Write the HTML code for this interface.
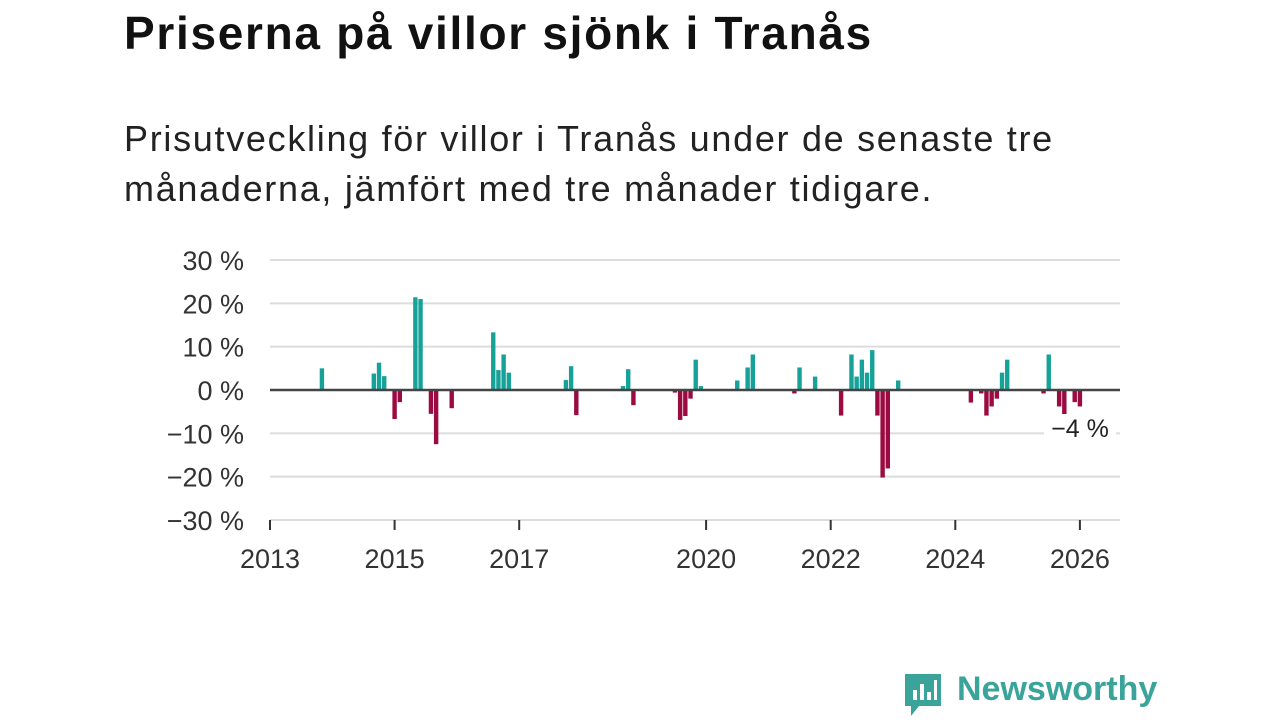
<!DOCTYPE html>
<html><head><meta charset="utf-8"><style>
body{margin:0;width:1280px;height:720px;background:#fff;font-family:"Liberation Sans","DejaVu Sans",sans-serif;overflow:hidden;position:relative}
h1{position:absolute;left:124px;top:6px;margin:0;font-size:46px;font-weight:bold;color:#111;letter-spacing:1.7px}
p.sub{position:absolute;left:124px;top:114px;margin:0;font-size:36px;line-height:50px;color:#222;width:1000px;letter-spacing:1.7px}
svg{position:absolute;left:0;top:0}
</style></head><body>
<h1>Priserna på villor sjönk i Tranås</h1>
<p class="sub">Prisutveckling för villor i Tranås under de senaste tre<br>månaderna, jämfört med tre månader tidigare.</p>
<svg id="chart" width="1280" height="720"></svg>
<div style="position:absolute;left:903px;top:670px;height:50px;">
<svg width="42" height="48" style="position:absolute;left:0;top:2px"><path d="M2 2h36v32h-22l-8 10v-10h-6z" fill="#3aa39a"/><rect x="10" y="18" width="4" height="10" fill="#fff"/><rect x="17" y="12" width="4" height="16" fill="#fff"/><rect x="24" y="20" width="4" height="8" fill="#fff"/><rect x="31" y="8" width="3" height="20" fill="#fff"/></svg>
<span style="position:absolute;left:54px;top:0;font-size:34px;font-weight:bold;color:#3aa39a;white-space:nowrap">Newsworthy</span></div>
<script>
const months=[10,20,21,22,24,25,28,29,31,32,35,43,44,45,46,57,58,59,68,69,70,78,79,80,81,82,83,90,92,93,101,102,105,110,112,113,114,115,116,117,118,119,121,135,137,138,139,140,141,142,149,150,152,153,155,156];
const values=[5,3.8,6.3,3.2,-6.7,-2.8,21.4,21,-5.5,-12.5,-4.2,13.3,4.6,8.2,4,2.3,5.5,-5.8,0.9,4.8,-3.5,-0.6,-6.9,-6,-2,7,0.9,2.2,5.2,8.2,-0.8,5.2,3.1,-5.9,8.2,3.1,7,4,9.2,-5.9,-20.2,-18.1,2.2,-2.9,-0.8,-5.9,-3.8,-2,4,7,-0.8,8.2,-3.8,-7.3,-2.8,-3.8];
const yTicks=[30,20,10,0,-10,-20,-30];
const yLabels=["30 %","20 %","10 %","0 %","−10 %","−20 %","−30 %"];
const xYears=[2013,2015,2017,2020,2022,2024,2026];
const NS="http://www.w3.org/2000/svg",svg=document.getElementById('chart');
const X=m=>270+m*(62.3/12), Y=v=>390-v*(130/30);
function mk(t,a){const e=document.createElementNS(NS,t);for(const k in a)e.setAttribute(k,a[k]);svg.appendChild(e);return e;}
yTicks.forEach((v,i)=>{
 const g=mk('line',{x1:270,x2:1120,y1:Y(v),y2:Y(v),stroke:'#dcdcdc','stroke-width':2});
 
 
 const t=mk('text',{x:244,y:Y(v)+10,'text-anchor':'end','font-size':27,fill:'#333'});t.textContent=yLabels[i];
 
 
});
xYears.forEach(y=>{
 const x=X((y-2013)*12);
 const l=mk('line',{x1:x,x2:x,y1:520,y2:530,stroke:'#333','stroke-width':2});
 
 
 const t=mk('text',{x:x,y:568,'text-anchor':'middle','font-size':27,fill:'#333'});t.textContent=y;
 
 
});
months.forEach((m,i)=>{
 const v=values[i],x=X(m);
 const r=mk('rect',{x:x-2.2,y:Math.min(Y(v),390),width:4.4,height:Math.abs(Y(v)-390),fill:v>=0?'#16a299':'#9b0a40'});
 
 
});
const z=mk('line',{x1:270,x2:1120,y1:390,y2:390,stroke:'#444','stroke-width':2.5});


const bg=mk('rect',{x:1044,y:414,width:72,height:30,fill:'#fff'});


const lab=mk('text',{x:1080,y:437,'text-anchor':'middle','font-size':25,fill:'#222'});lab.textContent='−4 %';


</script>
</body></html>
